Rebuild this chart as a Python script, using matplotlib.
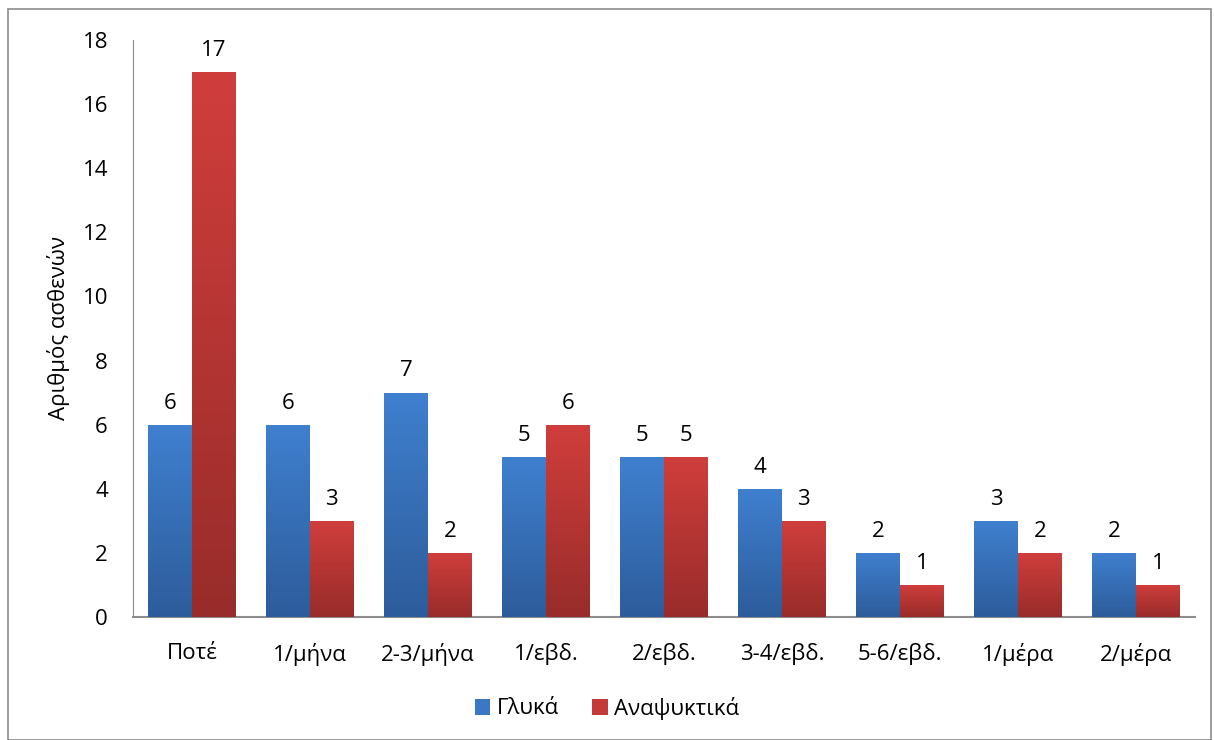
import numpy as np
import matplotlib
matplotlib.use("Agg")
from matplotlib import pyplot as plt
from matplotlib.colors import LinearSegmentedColormap
from matplotlib.patches import Rectangle, Patch

categories = ["Ποτέ", "1/μήνα", "2-3/μήνα", "1/εβδ.", "2/εβδ.", "3-4/εβδ.", "5-6/εβδ.", "1/μέρα", "2/μέρα"]
glyka = [6, 6, 7, 5, 5, 4, 2, 3, 2]
anapsyktika = [17, 3, 2, 6, 5, 3, 1, 2, 1]
series_names = ["Γλυκά", "Αναψυκτικά"]

plt.rcParams['font.family'] = ['Open Sans', 'DejaVu Sans']
plt.rcParams['font.size'] = 16

fig = plt.figure(figsize=(12.14, 7.4), dpi=100)
ax = fig.add_axes([133/1214, 1-617/740, (1195-133)/1214, (617-40)/740])

# outer frame
fig.patches.append(Rectangle((8/1214, 0), 1203/1214, 1-9/740, transform=fig.transFigure,
                             fill=False, edgecolor="#8c8c8c", linewidth=1.2))

x = np.arange(len(categories))
w = 0.37
blue_cm = LinearSegmentedColormap.from_list("b", ["#2d5c9b", "#3f80cf"])
red_cm = LinearSegmentedColormap.from_list("r", ["#982c2a", "#d03e3c"])
grad = np.linspace(0, 1, 256).reshape(-1, 1)

def grad_bars(xs, vals, cmap, label):
    bars = ax.bar(xs, vals, w, color=cmap(0.6), label=label, zorder=2)
    for b in bars:
        x0, y0 = b.get_x(), b.get_y()
        im = ax.imshow(grad, cmap=cmap, origin="lower", aspect="auto",
                       extent=[x0, x0 + b.get_width(), y0, y0 + b.get_height()], zorder=3)
        im.set_clip_path(b)
    for xi, v in zip(xs, vals):
        ax.annotate(str(v), (xi, v), xytext=(0, 8), textcoords="offset points",
                    ha="center", va="bottom", fontsize=16)
    return bars

grad_bars(x - w/2, glyka, blue_cm, series_names[0])
grad_bars(x + w/2, anapsyktika, red_cm, series_names[1])

ax.set_xlim(-0.5, len(categories) - 0.5)
ax.set_ylim(0, 18)
ax.set_yticks(range(0, 19, 2))
ax.set_xticks(x)
ax.set_xticklabels(categories)
ax.tick_params(axis="both", length=0, labelsize=16)
ax.tick_params(axis="x", pad=19)
ax.tick_params(axis="y", pad=18)
for s in ["top", "right"]:
    ax.spines[s].set_visible(False)
ax.spines["left"].set_color("#8c8c8c")
ax.spines["bottom"].set_color("#8c8c8c")
ax.spines["bottom"].set_linewidth(1.5)
ax.set_ylabel("Αριθμός ασθενών", fontsize=16, labelpad=9)

handles = [Patch(facecolor="#3a78c6"), Patch(facecolor="#c43a38")]
fig.legend(handles, series_names, loc="center", bbox_to_anchor=(0.5, 1-708/740), ncol=2,
           frameon=False, handlelength=0.7, handleheight=0.7, handletextpad=0.3,
           columnspacing=1.5, fontsize=16)

fig.savefig("out.png", dpi=100)
